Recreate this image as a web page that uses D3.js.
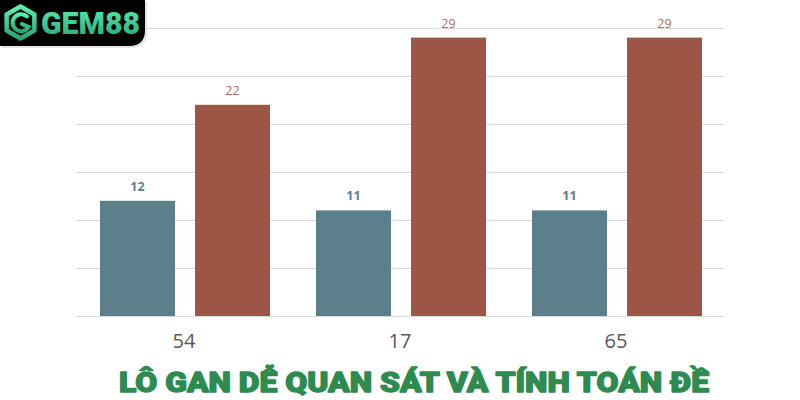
<!DOCTYPE html>
<html>
<head>
<meta charset="utf-8">
<script src="https://cdn.jsdelivr.net/npm/d3@7"></script>
<style>
  html, body { margin: 0; padding: 0; background: #fff; }
  svg { display: block; }
</style>
</head>
<body>
<svg id="chart" width="800" height="400"></svg>
<script>
// data
const categories = ["54", "17", "65"];
const seriesNames = ["gan", "max"];
const ganValues = [12, 11, 11];
const maxValues = [22, 29, 29];
const yTicks = [0, 5, 10, 15, 20, 25, 30];
const titleText = "LÔ GAN DỄ QUAN SÁT VÀ TÍNH TOÁN ĐỀ";
const logoText = "GEM88";

const colors = { gan: "#5b808b", max: "#9d5645" };
const labelColors = { gan: "#5e7f88", max: "#b06a56" };

const svg = d3.select("#chart");
const margin = { top: 28, right: 76, bottom: 84, left: 76 };
const width = 800 - margin.left - margin.right;
const height = 400 - margin.top - margin.bottom;

const g = svg.append("g")
  .attr("transform", `translate(${margin.left},${margin.top})`);

const y = d3.scaleLinear().domain([0, 30]).range([height, 0]);

const x0 = d3.scaleBand()
  .domain(categories)
  .range([0, width])
  .padding(0);

const x1 = d3.scaleBand()
  .domain(seriesNames)
  .range([24, x0.bandwidth() - 22])
  .paddingInner(20 / 95);

// gridlines
g.append("g")
  .attr("class", "grid")
  .call(d3.axisLeft(y).tickValues(yTicks).tickSize(-width).tickFormat(""))
  .call(s => s.select(".domain").remove())
  .call(s => s.selectAll("line").attr("stroke", "#d9d9d9").attr("stroke-width", 1));

const rows = categories.map((c, i) => ({ cat: c, gan: ganValues[i], max: maxValues[i] }));

const groups = g.selectAll(".grp")
  .data(rows)
  .enter().append("g")
  .attr("class", "grp")
  .attr("transform", d => `translate(${x0(d.cat)},0)`);

groups.selectAll("rect")
  .data(d => seriesNames.map(k => ({ key: k, value: d[k] })))
  .enter().append("rect")
  .attr("x", d => x1(d.key))
  .attr("width", x1.bandwidth())
  .attr("y", d => y(d.value))
  .attr("height", d => height - y(d.value))
  .attr("fill", d => colors[d.key]);

groups.selectAll(".val")
  .data(d => seriesNames.map(k => ({ key: k, value: d[k] })))
  .enter().append("text")
  .attr("class", "val")
  .attr("x", d => x1(d.key) + x1.bandwidth() / 2)
  .attr("y", d => y(d.value) - 10)
  .attr("text-anchor", "middle")
  .attr("font-family", "'Open Sans', sans-serif")
  .attr("font-size", 12.5)
  .attr("font-weight", d => d.key === "gan" ? "bold" : "normal")
  .attr("fill", d => labelColors[d.key])
  .text(d => d.value);

// category axis
const xAxis = g.append("g")
  .attr("transform", `translate(0,${height})`)
  .call(d3.axisBottom(x0).tickSize(0).tickPadding(20));
xAxis.select(".domain").remove();
xAxis.selectAll("text")
  .attr("font-family", "'Open Sans', sans-serif")
  .attr("font-size", 20)
  .attr("fill", "#595959")
  .attr("dy", "0.62em");

// title
svg.append("text")
  .attr("x", 414)
  .attr("y", 392)
  .attr("text-anchor", "middle")
  .attr("font-family", "Roboto, 'DejaVu Sans', sans-serif")
  .attr("font-weight", 900)
  .attr("font-size", 27)
  .attr("fill", "#2e8b50")
  .attr("stroke", "#2e8b50")
  .attr("stroke-width", 1.3)
  .attr("stroke-linejoin", "round")
  .attr("textLength", 590)
  .attr("lengthAdjust", "spacingAndGlyphs")
  .text(titleText);

// logo
const defs = svg.append("defs");
const grad = defs.append("linearGradient")
  .attr("id", "logoGrad")
  .attr("x1", 0).attr("y1", 0).attr("x2", 0).attr("y2", 1);
grad.append("stop").attr("offset", "0%").attr("stop-color", "#5cf0b0");
grad.append("stop").attr("offset", "100%").attr("stop-color", "#27a472");

const logo = svg.append("g");
logo.append("path")
  .attr("d", "M0,0 H145 V30 Q145,46 129,46 H0 Z")
  .attr("fill", "#e6e6e6")
  .attr("transform", "translate(2,2)");
logo.append("path")
  .attr("d", "M0,0 H145 V30 Q145,46 129,46 H0 Z")
  .attr("fill", "#000");

const hex = d3.range(6).map(i => {
  const a = Math.PI / 3 * i - Math.PI / 2;
  return [20.5 + 16 * Math.cos(a), 22.5 + 16 * Math.sin(a)];
});
logo.append("path")
  .attr("d", d3.line()(hex) + "Z")
  .attr("fill", "none")
  .attr("stroke", "url(#logoGrad)")
  .attr("stroke-width", 4.5)
  .attr("stroke-linejoin", "round");
logo.append("path")
  .attr("d", "M27,16.5 A8.5,8.5 0 1 0 28.5,27 L22,24")
  .attr("fill", "none")
  .attr("stroke", "url(#logoGrad)")
  .attr("stroke-width", 4)
  .attr("stroke-linecap", "round");

logo.append("text")
  .attr("x", 41)
  .attr("y", 34)
  .attr("font-family", "Roboto, 'DejaVu Sans', sans-serif")
  .attr("font-weight", 900)
  .attr("font-size", 32)
  .attr("fill", "url(#logoGrad)")
  .attr("textLength", 99)
  .attr("lengthAdjust", "spacingAndGlyphs")
  .text(logoText);
</script>
</body>
</html>
